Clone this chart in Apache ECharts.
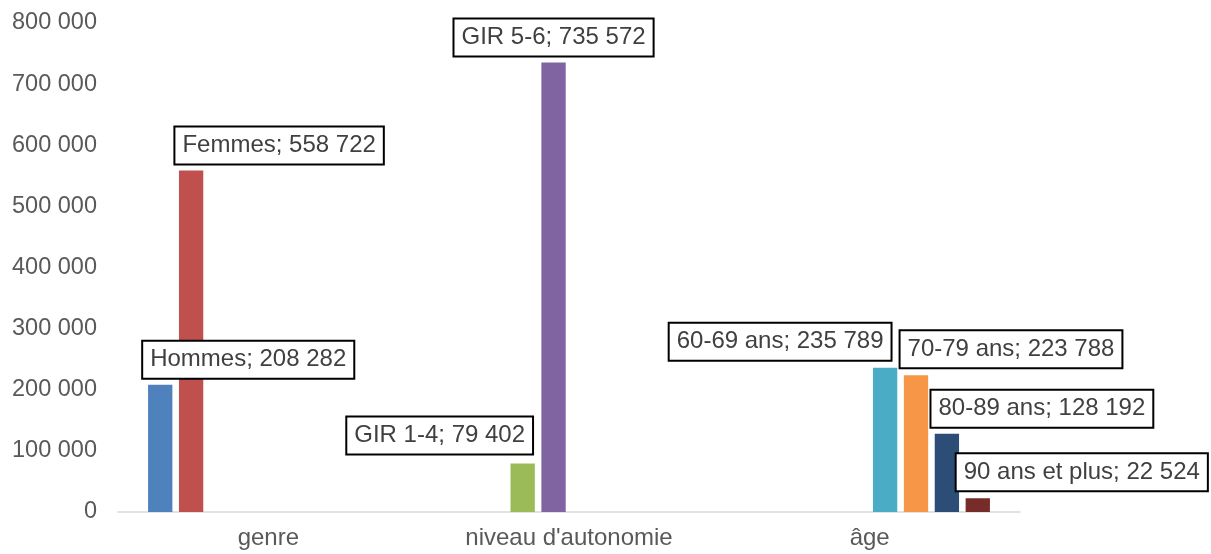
<!DOCTYPE html>
<html>
<head>
<meta charset="utf-8">
<script src="https://cdn.jsdelivr.net/npm/echarts@6/dist/echarts.min.js"></script>
<style>
html,body{margin:0;padding:0;background:#fff;}
#chart{width:1211px;height:554px;}
</style>
</head>
<body>
<div id="chart"></div>
<script>
const categories = ["genre", "niveau d'autonomie", "âge"];
const seriesNames = ["Hommes", "Femmes", "GIR 1-4", "GIR 5-6", "60-69 ans", "70-79 ans", "80-89 ans", "90 ans et plus"];
const seriesCategory = [0, 0, 1, 1, 2, 2, 2, 2];
const seriesValues = [208282, 558722, 79402, 735572, 235789, 223788, 128192, 22524];
const yTicks = [0, 100000, 200000, 300000, 400000, 500000, 600000, 700000, 800000];

const colors = ["#4F81BD", "#C0504D", "#9BBB59", "#8064A2", "#4BACC6", "#F79646", "#2C4D75", "#772C2A"];
const labelOffsets = [[88, -2], [88, -2], [-83, -5], [0, -2], [-105, -3], [95, -3], [95, -2], [104, -3]];

function fmt(v) {
  return String(v).replace(/\B(?=(\d{3})+(?!\d))/g, " ");
}

const series = seriesNames.map((name, i) => ({
  name: name,
  type: "bar",
  data: categories.map((c, ci) => ci === seriesCategory[i] ? seriesValues[i] : null),
  itemStyle: { color: colors[i] },
  barGap: "27%",
  barCategoryGap: "20%",
  label: {
    show: true,
    position: "top",
    distance: 5,
    offset: labelOffsets[i],
    formatter: p => name + "; " + fmt(p.value),
    fontFamily: "Liberation Sans, Arial, sans-serif",
    fontSize: 24,
    lineHeight: 28,
    color: "#404040",
    backgroundColor: "#ffffff",
    borderColor: "#000000",
    borderWidth: 2,
    padding: [4, 7, 4, 7]
  }
}));

const chart = echarts.init(document.getElementById("chart"), null, { renderer: "canvas" });
chart.setOption({
  animation: false,
  backgroundColor: "#ffffff",
  grid: { left: 118, right: 191, top: 23, bottom: 42, containLabel: false },
  xAxis: {
    type: "category",
    data: categories,
    axisLine: { show: true, lineStyle: { color: "#D9D9D9", width: 1.5 } },
    axisTick: { show: false },
    axisLabel: {
      margin: 14,
      fontFamily: "Liberation Sans, Arial, sans-serif",
      fontSize: 24,
      color: "#595959"
    }
  },
  yAxis: {
    type: "value",
    min: yTicks[0],
    max: yTicks[yTicks.length - 1],
    interval: yTicks[1] - yTicks[0],
    axisLine: { show: false },
    axisTick: { show: false },
    splitLine: { show: false },
    axisLabel: {
      margin: 21,
      fontFamily: "Liberation Sans, Arial, sans-serif",
      fontSize: 23.5,
      color: "#595959",
      formatter: v => fmt(v)
    }
  },
  series: series
});
</script>
</body>
</html>
